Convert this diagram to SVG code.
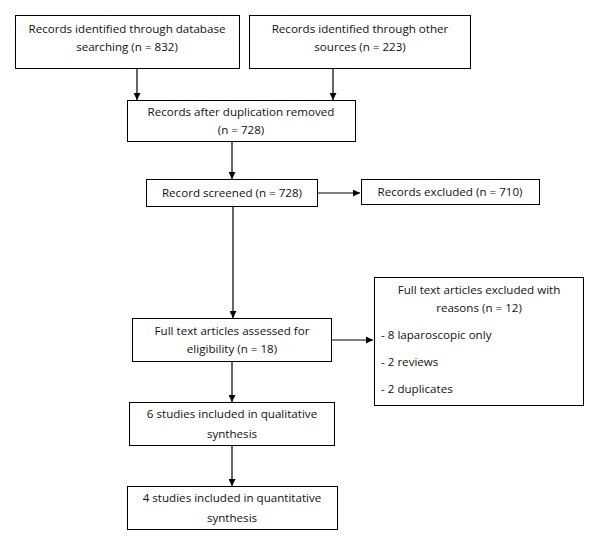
<svg xmlns="http://www.w3.org/2000/svg" width="602" height="547" viewBox="0 0 602 547">
<style>
.box{fill:#fff;stroke:#000;stroke-width:1}
text{font-family:"Open Sans","Liberation Sans",sans-serif;font-size:11.6px;fill:#111}
.c{text-anchor:middle}
.ln{stroke:#000;stroke-width:1.2;fill:none;marker-end:url(#ah)}
</style>
<defs>
<marker id="ah" viewBox="0 0 10 10" refX="10" refY="5" markerWidth="7" markerHeight="7" markerUnits="userSpaceOnUse" orient="auto">
<path d="M0,0 L10,5 L0,10 z" fill="#000"/>
</marker>
</defs>
<rect width="602" height="547" fill="#fff"/>
<g id="connectors">
<line class="ln" x1="137" y1="68" x2="137" y2="100"/>
<line class="ln" x1="333" y1="68" x2="333" y2="100"/>
<line class="ln" x1="232" y1="142" x2="232" y2="179"/>
<line class="ln" x1="318" y1="193" x2="360" y2="193"/>
<line class="ln" x1="233" y1="207" x2="233" y2="318"/>
<line class="ln" x1="332" y1="340" x2="373" y2="340"/>
<line class="ln" x1="232" y1="362" x2="232" y2="402"/>
<line class="ln" x1="232" y1="446" x2="232" y2="486"/>
</g>
<g id="n1"><rect class="box" x="15.5" y="15.5" width="224" height="53"/>
<text class="c" x="127" y="33">Records identified through database</text>
<text class="c" x="127" y="51">searching (n = 832)</text></g>
<g id="n2"><rect class="box" x="249.5" y="15.5" width="221" height="53"/>
<text class="c" x="360" y="33">Records identified through other</text>
<text class="c" x="360" y="51">sources (n = 223)</text></g>
<g id="n3"><rect class="box" x="127.5" y="100.5" width="228" height="41"/>
<text class="c" x="241" y="116">Records after duplication removed</text>
<text class="c" x="241" y="134">(n = 728)</text></g>
<g id="n4"><rect class="box" x="146.5" y="179.5" width="171" height="27"/>
<text class="c" x="232" y="197">Record screened (n = 728)</text></g>
<g id="n5"><rect class="box" x="361.5" y="179.5" width="178" height="25"/>
<text class="c" x="450" y="196">Records excluded (n = 710)</text></g>
<g id="n6"><rect class="box" x="132.5" y="318.5" width="199" height="43"/>
<text class="c" x="232" y="335">Full text articles assessed for</text>
<text class="c" x="232" y="353">eligibility (n = 18)</text></g>
<g id="n7"><rect class="box" x="374.5" y="277.5" width="209" height="128"/>
<text class="c" x="479" y="294">Full text articles excluded with</text>
<text class="c" x="479" y="312">reasons (n = 12)</text>
<text x="381" y="339">- 8 laparoscopic only</text>
<text x="381" y="366">- 2 reviews</text>
<text x="381" y="393">- 2 duplicates</text></g>
<g id="n8"><rect class="box" x="129.5" y="402.5" width="205" height="43"/>
<text class="c" x="232" y="418">6 studies included in qualitative</text>
<text class="c" x="232" y="438">synthesis</text></g>
<g id="n9"><rect class="box" x="127.5" y="486.5" width="210" height="43"/>
<text class="c" x="232" y="502">4 studies included in quantitative</text>
<text class="c" x="232" y="522">synthesis</text></g>
</svg>
